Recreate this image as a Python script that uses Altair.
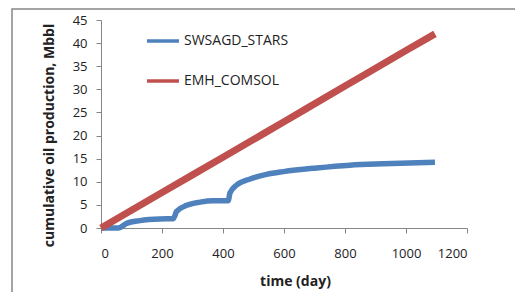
import altair as alt
import pandas as pd

# Data
stars_day = [0, 57, 84, 128, 193, 237, 248, 281, 325, 368, 417, 423, 445, 489, 543, 598, 707, 816, 925, 1095]
stars_val = [0, 0, 1.0, 1.6, 1.95, 2.0, 3.6, 4.9, 5.6, 5.9, 5.9, 7.6, 9.3, 10.6, 11.6, 12.2, 13.0, 13.6, 13.9, 14.2]
comsol_day = [0, 200, 400, 600, 800, 1000, 1095]
comsol_val = [0, 7.7, 15.3, 23.0, 30.7, 38.4, 42.0]
series_names = ["SWSAGD_STARS", "EMH_COMSOL"]
series_colors = ["#4F81BD", "#C0504D"]
x_ticks = [0, 200, 400, 600, 800, 1000, 1200]
y_ticks = [0, 5, 10, 15, 20, 25, 30, 35, 40, 45]

df_stars = pd.DataFrame({"day": stars_day, "val": stars_val, "series": series_names[0]})
df_comsol = pd.DataFrame({"day": comsol_day, "val": comsol_val, "series": series_names[1]})

FONT = "Open Sans"
GRAY = "#868686"

frame = alt.Chart(pd.DataFrame({"a": [0]})).mark_rect(
    filled=False, stroke=GRAY, strokeWidth=1.5
).encode(
    x=alt.value(-89), x2=alt.value(600), y=alt.value(-11), y2=alt.value(400)
)

x_enc = alt.X("day:Q", scale=alt.Scale(domain=[0, 1200], nice=False),
              axis=alt.Axis(values=x_ticks, format="d", title="time (day)", grid=False,
                            tickSize=5, labelPadding=14, titlePadding=14, titleX=194))
y_enc = alt.Y("val:Q", scale=alt.Scale(domain=[0, 45], nice=False),
              axis=alt.Axis(values=y_ticks, title="cumulative oil production, Mbbl", grid=False,
                            tickSize=5, labelPadding=9, titlePadding=16, titleFontSize=14,
                            titleY=115, titleAlign="center"))
c_enc = alt.Color("series:N",
                  scale=alt.Scale(domain=series_names, range=series_colors),
                  sort=series_names,
                  legend=alt.Legend(title=None, orient="none", legendX=44, legendY=3))

line_stars = alt.Chart(df_stars).mark_line(interpolate="monotone", strokeWidth=5.5).encode(
    x=x_enc, y=y_enc, color=c_enc)
line_comsol = alt.Chart(df_comsol).mark_line(interpolate="monotone", strokeWidth=7).encode(
    x=x_enc, y=y_enc, color=c_enc)

chart = alt.layer(frame, line_stars, line_comsol).properties(
    width=366, height=208,
    autosize=alt.AutoSizeParams(type="none"),
    padding={"left": 93, "top": 12, "right": 48, "bottom": 64},
).configure_view(stroke=None).configure_axis(
    domainColor=GRAY, tickColor=GRAY, labelFont=FONT, labelFontSize=13,
    labelColor="#222222", titleFont=FONT, titleFontSize=14, titleFontWeight="bold",
    titleColor="#222222",
).configure_legend(
    symbolType="stroke", symbolSize=1024, symbolStrokeWidth=3.5,
    labelFontSize=14, labelFont=FONT, labelColor="#222222",
    rowPadding=15, labelOffset=3,
)

chart.save("out.html", embed_options={"renderer": "svg", "actions": False})
